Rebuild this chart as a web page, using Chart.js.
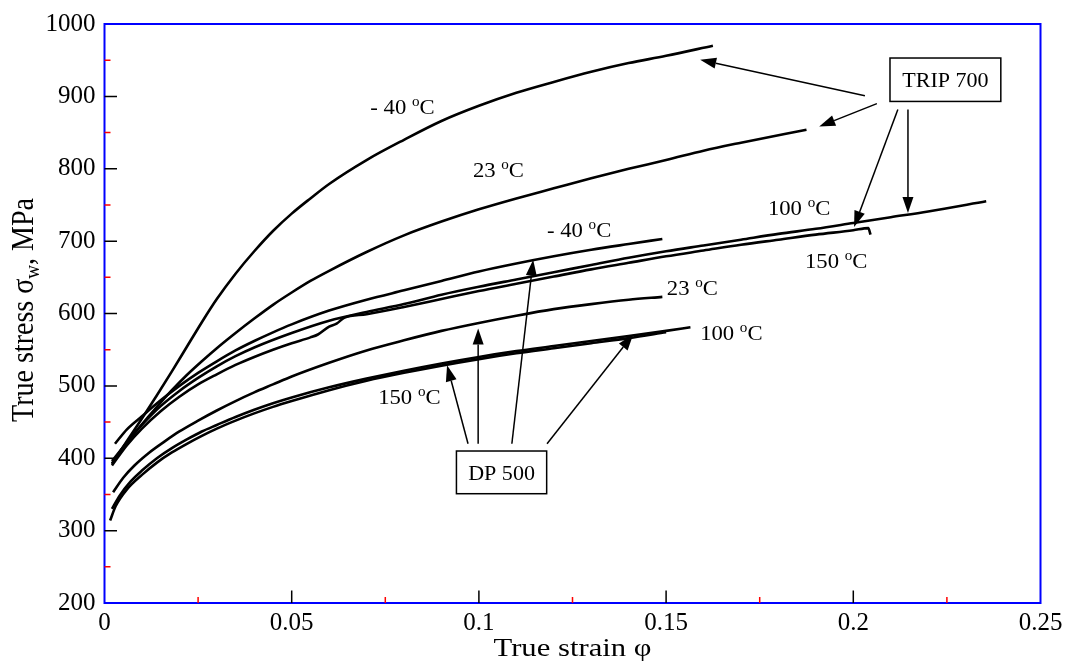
<!DOCTYPE html>
<html>
<head>
<meta charset="utf-8">
<script src="https://cdn.jsdelivr.net/npm/chart.js@4.4.1/dist/chart.umd.min.js"></script>
<style>
html,body{margin:0;padding:0;background:#ffffff;}
#c{display:block;}
</style>
</head>
<body>
<canvas id="c" width="1068" height="669"></canvas>
<script>
// ---------- axis ticks ----------
const xTickValues = [0, 0.05, 0.1, 0.15, 0.2, 0.25];
const xTickLabels = ['0', '0.05', '0.1', '0.15', '0.2', '0.25'];
const xMinorTicks = [0.025, 0.075, 0.125, 0.175, 0.225];
const yTickValues = [200, 300, 400, 500, 600, 700, 800, 900, 1000];
const yTickLabels = ['200', '300', '400', '500', '600', '700', '800', '900', '1000'];
const yMinorTicks = [250, 350, 450, 550, 650, 750, 850, 950];

// ---------- series (true strain, true stress MPa) ----------
const trip700_m40_strain = [0.002,0.006,0.010,0.014,0.018,0.022,0.026,0.030,0.035,0.040,0.045,0.050,0.055,0.060,0.070,0.080,0.090,0.100,0.110,0.120,0.130,0.140,0.150,0.1625];
const trip700_m40_stress = [392,424,455,487,520,554,588,620,655,686,714,738,759,779,812,840,866,887,905,920,934,946,956,970];

const trip700_23_strain = [0.002,0.006,0.010,0.014,0.018,0.022,0.026,0.030,0.035,0.040,0.045,0.050,0.055,0.060,0.070,0.080,0.090,0.100,0.110,0.120,0.130,0.140,0.150,0.160,0.170,0.1875];
const trip700_23_stress = [396,422,447,471,494,515,534,552,573,593,612,629,645,659,685,708,727,744,759,773,787,800,812,825,836,854];

const trip700_100_strain = [0.002,0.006,0.010,0.015,0.020,0.025,0.030,0.035,0.040,0.050,0.060,0.070,0.080,0.090,0.100,0.110,0.120,0.130,0.140,0.150,0.160,0.170,0.180,0.190,0.200,0.210,0.220,0.2355];
const trip700_100_stress = [393,422,446,472,493,511,527,541,553,573,590,602,613,626,637,647,657,667,677,686,694,702,710,717,725,733,741,755];

const trip700_150_strain = [0.002,0.006,0.010,0.015,0.020,0.025,0.030,0.035,0.040,0.045,0.050,0.055,0.057,0.060,0.062,0.064,0.070,0.080,0.090,0.100,0.110,0.120,0.130,0.140,0.150,0.160,0.170,0.180,0.190,0.200,0.2040,0.2046];
const trip700_150_stress = [390,418,441,465,485,502,516,529,540,550,559,567,571,582,586,594,599,609,620,631,641,651,661,670,679,687,695,702,709,715,718,709];

const dp500_m40_strain = [0.0028,0.006,0.010,0.015,0.020,0.025,0.030,0.035,0.040,0.045,0.050,0.060,0.070,0.080,0.090,0.100,0.110,0.120,0.130,0.140,0.149];
const dp500_m40_stress = [420,440,458,480,500,518,534,549,562,574,585,604,619,632,645,658,669,679,688,696,703];

const dp500_23_strain = [0.0023,0.005,0.008,0.012,0.016,0.020,0.025,0.030,0.035,0.040,0.045,0.050,0.060,0.070,0.080,0.090,0.100,0.110,0.120,0.130,0.140,0.149];
const dp500_23_stress = [353,373,390,408,423,437,452,466,479,491,502,513,532,549,563,576,587,597,606,613,619,623];

const dp500_100_strain = [0.002,0.004,0.007,0.010,0.014,0.018,0.022,0.026,0.030,0.035,0.040,0.045,0.050,0.060,0.070,0.080,0.090,0.100,0.110,0.120,0.130,0.140,0.150,0.1565];
const dp500_100_stress = [330,348,368,383,400,414,426,437,446,457,467,476,484,498,510,521,531,540,548,555,562,569,576,581];

const dp500_150_strain = [0.0015,0.003,0.006,0.010,0.014,0.018,0.022,0.026,0.030,0.035,0.040,0.045,0.050,0.060,0.070,0.080,0.090,0.100,0.110,0.120,0.130,0.140,0.150];
const dp500_150_stress = [314,334,357,377,394,408,420,431,441,452,462,471,479,494,507,518,528,537,545,552,559,566,574];

// ---------- annotations (data coordinates) ----------
const tempLabelText   = ['- 40', '23', '- 40', '100', '150', '23', '100', '150'];
const tempLabelStrain = [0.0710, 0.0984, 0.1182, 0.1772, 0.1871, 0.1502, 0.1591, 0.0731];
const tempLabelStress = [876, 788, 706, 736, 663, 625, 564, 475];

const boxText = ['TRIP 700', 'DP 500'];
const boxStrain0 = [0.2098, 0.0940];
const boxStrain1 = [0.2394, 0.1181];
const boxStress0 = [953, 410];
const boxStress1 = [893, 351];

const arrowFromStrain = [0.2031, 0.2063, 0.2119, 0.2146, 0.0971, 0.0998, 0.1088, 0.1182];
const arrowFromStress = [901, 890, 882, 882, 420, 420, 420, 420];
const arrowToStrain   = [0.1591, 0.1909, 0.2002, 0.2146, 0.0915, 0.0998, 0.1145, 0.1412];
const arrowToStress   = [950.5, 858.4, 719.6, 738.8, 528.5, 579.4, 674.2, 571.1];

function pts(xs, ys) { return xs.map((x, i) => ({ x: x, y: ys[i] })); }

const seriesDefs = [
  ['TRIP 700, -40 °C', trip700_m40_strain, trip700_m40_stress],
  ['TRIP 700, 23 °C', trip700_23_strain, trip700_23_stress],
  ['TRIP 700, 100 °C', trip700_100_strain, trip700_100_stress],
  ['TRIP 700, 150 °C', trip700_150_strain, trip700_150_stress],
  ['DP 500, -40 °C', dp500_m40_strain, dp500_m40_stress],
  ['DP 500, 23 °C', dp500_23_strain, dp500_23_stress],
  ['DP 500, 100 °C', dp500_100_strain, dp500_100_stress],
  ['DP 500, 150 °C', dp500_150_strain, dp500_150_stress]
];

const SERIF = '"Liberation Serif", "Times New Roman", serif';

const decorPlugin = {
  id: 'decor',
  afterDatasetsDraw(chart) {
    const ctx = chart.ctx;
    const a = chart.chartArea;
    const xs = chart.scales.x, ys = chart.scales.y;
    ctx.save();
    // frame
    ctx.strokeStyle = '#0000ff';
    ctx.lineWidth = 2;
    ctx.strokeRect(a.left, a.top, a.right - a.left, a.bottom - a.top);
    // major ticks (inward)
    ctx.lineWidth = 1.5;
    ctx.strokeStyle = '#000000';
    ctx.beginPath();
    xTickValues.forEach(v => {
      const p = xs.getPixelForValue(v);
      if (v > 0 && v < 0.25) { ctx.moveTo(p, a.bottom); ctx.lineTo(p, a.bottom - 12.5); }
    });
    yTickValues.forEach(v => {
      const p = ys.getPixelForValue(v);
      if (v > 200 && v < 1000) { ctx.moveTo(a.left, p); ctx.lineTo(a.left + 12.5, p); }
    });
    ctx.stroke();
    // minor ticks (red)
    ctx.strokeStyle = '#ff0000';
    ctx.beginPath();
    xMinorTicks.forEach(v => {
      const p = xs.getPixelForValue(v);
      ctx.moveTo(p, a.bottom); ctx.lineTo(p, a.bottom - 6);
    });
    yMinorTicks.forEach(v => {
      const p = ys.getPixelForValue(v);
      ctx.moveTo(a.left, p); ctx.lineTo(a.left + 6, p);
    });
    ctx.stroke();

    // temperature labels
    ctx.fillStyle = '#000000';
    ctx.textAlign = 'left';
    ctx.textBaseline = 'alphabetic';
    tempLabelText.forEach((t, i) => {
      const px = xs.getPixelForValue(tempLabelStrain[i]);
      const py = ys.getPixelForValue(tempLabelStress[i]);
      ctx.save();
      ctx.translate(px, py);
      ctx.scale(1.08, 1);
      ctx.font = '21px ' + SERIF;
      let cx = 0;
      ctx.fillText(t + ' ', cx, 0);
      cx += ctx.measureText(t + ' ').width;
      ctx.font = '14px ' + SERIF;
      ctx.fillText('o', cx, -8);
      cx += ctx.measureText('o').width;
      ctx.font = '21px ' + SERIF;
      ctx.fillText('C', cx, 0);
      ctx.restore();
    });

    // boxes
    boxText.forEach((t, i) => {
      const x0 = xs.getPixelForValue(boxStrain0[i]);
      const x1 = xs.getPixelForValue(boxStrain1[i]);
      const y0 = ys.getPixelForValue(boxStress0[i]);
      const y1 = ys.getPixelForValue(boxStress1[i]);
      ctx.strokeStyle = '#000000';
      ctx.lineWidth = 1.5;
      ctx.strokeRect(x0, y0, x1 - x0, y1 - y0);
      ctx.save();
      ctx.translate((x0 + x1) / 2, (y0 + y1) / 2 + 7.5);
      ctx.scale(1.05, 1);
      ctx.font = '21px ' + SERIF;
      ctx.textAlign = 'center';
      ctx.fillText(t, 0, 0);
      ctx.restore();
    });

    // arrows
    ctx.strokeStyle = '#000000';
    ctx.fillStyle = '#000000';
    ctx.lineWidth = 1.5;
    arrowFromStrain.forEach((v, i) => {
      const x0 = xs.getPixelForValue(v), y0 = ys.getPixelForValue(arrowFromStress[i]);
      const x1 = xs.getPixelForValue(arrowToStrain[i]), y1 = ys.getPixelForValue(arrowToStress[i]);
      const ang = Math.atan2(y1 - y0, x1 - x0);
      const hl = 16, hw = 5.5;
      const bx = x1 - hl * Math.cos(ang), by = y1 - hl * Math.sin(ang);
      ctx.beginPath();
      ctx.moveTo(x0, y0);
      ctx.lineTo(bx, by);
      ctx.stroke();
      ctx.beginPath();
      ctx.moveTo(x1, y1);
      ctx.lineTo(bx + hw * Math.sin(ang), by - hw * Math.cos(ang));
      ctx.lineTo(bx - hw * Math.sin(ang), by + hw * Math.cos(ang));
      ctx.closePath();
      ctx.fill();
    });

    // x axis title
    ctx.save();
    ctx.translate((a.left + a.right) / 2, 656);
    ctx.scale(1.18, 1);
    ctx.font = '26px ' + SERIF;
    ctx.textAlign = 'center';
    ctx.fillText('True strain φ', 0, 0);
    ctx.restore();

    // y axis title with subscript
    ctx.save();
    ctx.translate(33, 310);
    ctx.rotate(-Math.PI / 2);
    ctx.scale(1, 1.12);
    ctx.textAlign = 'left';
    const big = '28px ' + SERIF, small = '19px ' + SERIF;
    ctx.font = big; const w1 = ctx.measureText('True stress σ').width;
    ctx.font = small; const w2 = ctx.measureText('w').width;
    ctx.font = big; const w3 = ctx.measureText(', MPa').width;
    let sx = -(w1 + w2 + w3) / 2;
    ctx.font = big; ctx.fillText('True stress σ', sx, 0); sx += w1;
    ctx.font = small; ctx.fillText('w', sx, 5); sx += w2;
    ctx.font = big; ctx.fillText(', MPa', sx, 0);
    ctx.restore();

    ctx.restore();
  }
};

new Chart(document.getElementById('c'), {
  type: 'line',
  data: {
    datasets: seriesDefs.map(s => ({
      label: s[0],
      data: pts(s[1], s[2]),
      borderColor: '#000000',
      backgroundColor: '#000000',
      borderWidth: 2.6,
      pointRadius: 0,
      fill: false,
      cubicInterpolationMode: 'monotone'
    }))
  },
  options: {
    responsive: false,
    animation: false,
    devicePixelRatio: 1,
    layout: { padding: { left: 0, top: 21, right: 27.5, bottom: 0 } },
    plugins: { legend: { display: false }, tooltip: { enabled: false }, title: { display: false } },
    scales: {
      x: {
        type: 'linear',
        min: 0, max: 0.25,
        grid: { display: false, drawTicks: false },
        border: { display: false },
        afterBuildTicks: (scale) => { scale.ticks = xTickValues.map(v => ({ value: v })); },
        afterFit: (scale) => { scale.height = 66; },
        ticks: {
          autoSkip: false,
          maxRotation: 0,
          padding: 5,
          color: '#000000',
          font: { family: SERIF, size: 25 },
          callback: (v) => { const i = xTickValues.findIndex(t => Math.abs(t - v) < 1e-9); return i >= 0 ? xTickLabels[i] : ''; }
        }
      },
      y: {
        type: 'linear',
        min: 200, max: 1000,
        grid: { display: false, drawTicks: false },
        border: { display: false },
        afterBuildTicks: (scale) => { scale.ticks = yTickValues.map(v => ({ value: v })); },
        afterFit: (scale) => { scale.width = 104.5; },
        ticks: {
          autoSkip: false,
          padding: 9,
          color: '#000000',
          font: { family: SERIF, size: 25 },
          callback: (v) => { const i = yTickValues.indexOf(v); return i >= 0 ? yTickLabels[i] : ''; }
        }
      }
    }
  },
  plugins: [decorPlugin]
});
</script>
</body>
</html>
